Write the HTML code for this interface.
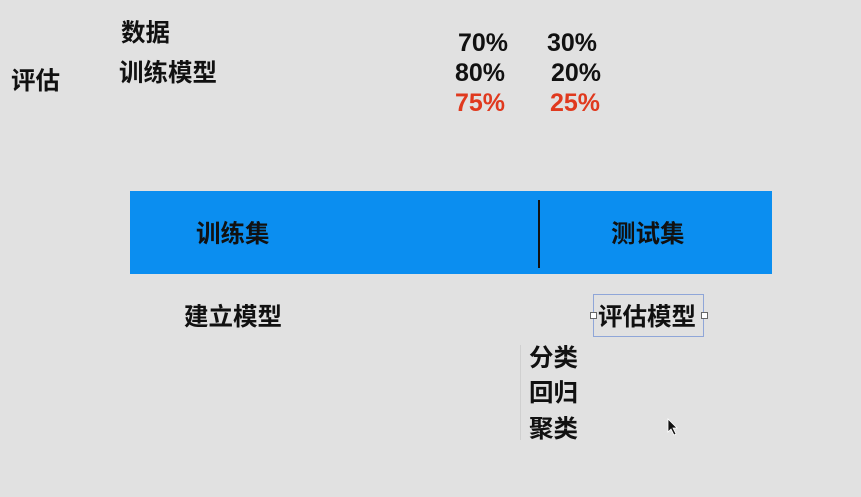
<!DOCTYPE html>
<html><head><meta charset="utf-8"><style>
body{margin:0;width:861px;height:497px;background:#e1e1e1;position:relative;overflow:hidden;font-family:"Liberation Sans","Noto Sans CJK SC",sans-serif;font-weight:bold;color:#111}
.t{position:absolute;font-size:24.5px;line-height:26px;white-space:nowrap;font-weight:600}
.p{font-size:25px;font-weight:bold}
.r{color:#e0391e}
</style></head><body>
<div class="t" style="left:121px;top:21px">数据</div>
<div class="t" style="left:119px;top:61px">训练模型</div>
<div class="t" style="left:11px;top:69px">评估</div>
<div class="t p" style="left:458px;top:30px">70%</div>
<div class="t p" style="left:547px;top:30px">30%</div>
<div class="t p" style="left:455px;top:60px">80%</div>
<div class="t p" style="left:551px;top:60px">20%</div>
<div class="t p r" style="left:455px;top:90px">75%</div>
<div class="t p r" style="left:550px;top:90px">25%</div>
<div style="position:absolute;left:130px;top:191px;width:642px;height:83px;background:#0b8ef0"></div>
<div style="position:absolute;left:538px;top:200px;width:2px;height:68px;background:#111"></div>
<div class="t" style="left:196px;top:222px">训练集</div>
<div class="t" style="left:611px;top:222px">测试集</div>
<div class="t" style="left:184px;top:305px">建立模型</div>
<div style="position:absolute;left:593px;top:294px;width:111px;height:43px;border:1px solid #8fa6d8;box-sizing:border-box"></div>
<div style="position:absolute;left:590px;top:312px;width:5px;height:5px;border:1px solid #666;background:#fff"></div>
<div style="position:absolute;left:701px;top:312px;width:5px;height:5px;border:1px solid #666;background:#fff"></div>
<div class="t" style="left:598px;top:305px">评估模型</div>
<div style="position:absolute;left:520px;top:345px;width:1px;height:95px;background:#d0d0d0"></div>
<div class="t" style="left:529px;top:346px">分类</div>
<div class="t" style="left:529px;top:381px">回归</div>
<div class="t" style="left:529px;top:417px">聚类</div>
<svg style="position:absolute;left:667px;top:418px" width="12" height="20"><path d="M1 1 L1 14 L4 11 L7 17 L9 16 L6 10 L10 10 Z" fill="#111" stroke="#fff" stroke-width="0.8"/></svg>
</body></html>
